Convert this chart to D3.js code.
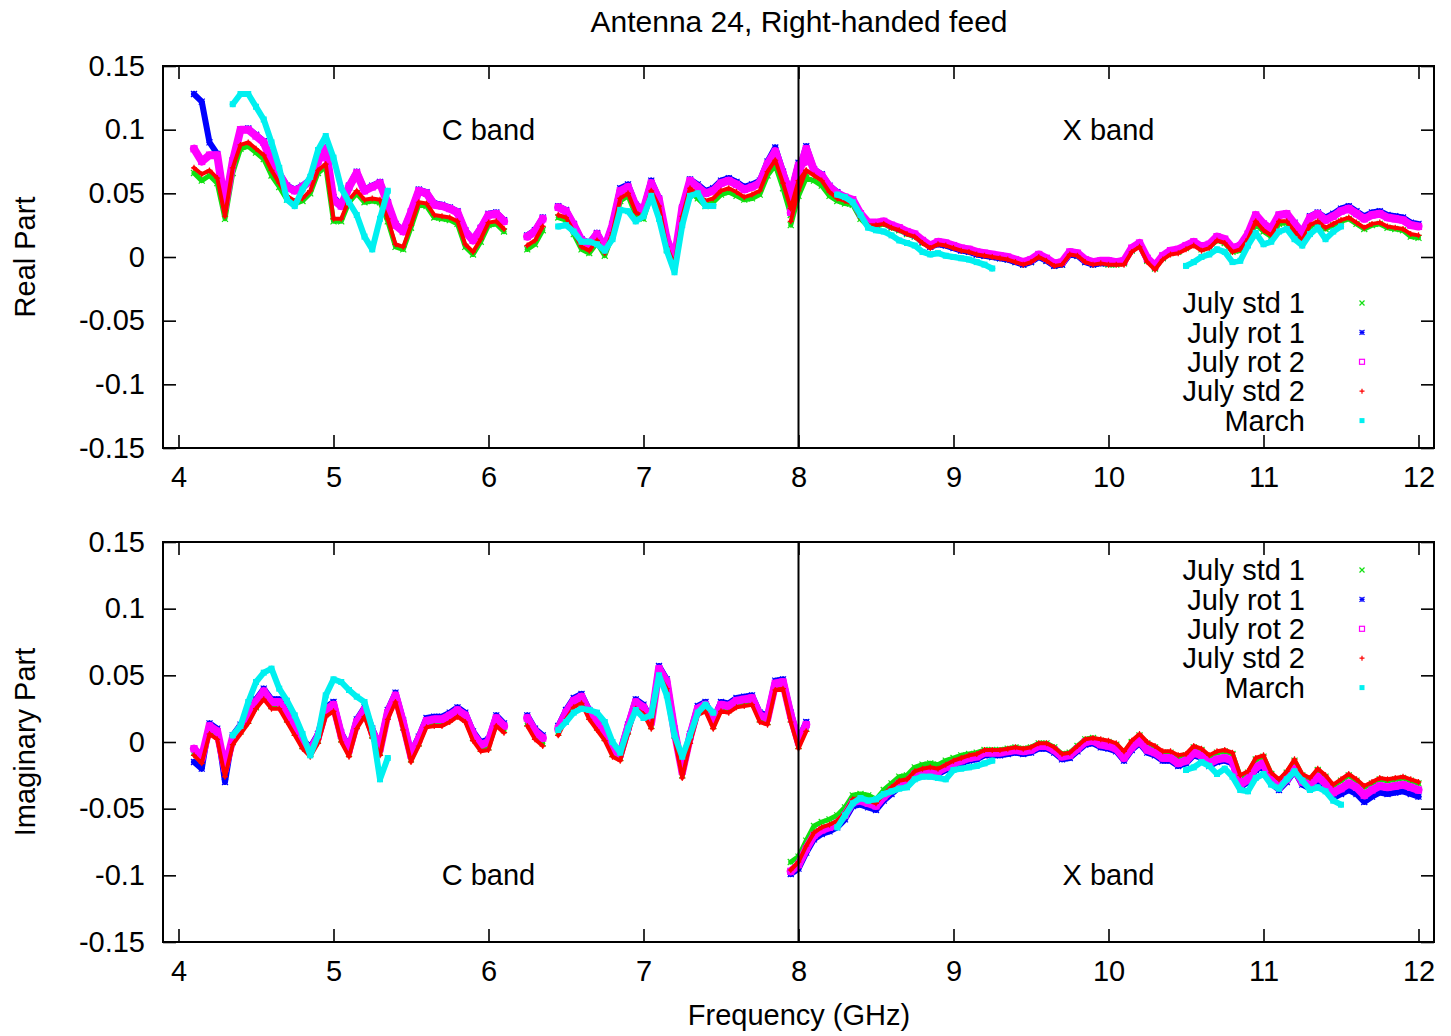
<!DOCTYPE html>
<html>
<head>
<meta charset="utf-8">
<script src="https://cdn.jsdelivr.net/npm/d3@7"></script>
<style>
  body { margin: 0; background: #fff; }
  text { font-family: "Liberation Sans", Arial, sans-serif; fill: #000; }
</style>
</head>
<body>
<script>
// Antenna 24, right-handed feed: real / imaginary part vs frequency
// values, C band and X band are separate sweeps

var freqC = [4.10,4.15,4.20,4.25,4.30,4.35,4.40,4.45,4.50,4.55,4.60,4.65,4.70,4.75,4.80,4.85,4.90,4.95,5.00,5.05,
             5.10,5.15,5.20,5.25,5.30,5.35,5.40,5.45,5.50,5.55,5.60,5.65,5.70,5.75,5.80,5.85,5.90,5.95,6.00,6.05,
             6.10,6.15,6.20,6.25,6.30,6.35,6.40,6.45,6.50,6.55,6.60,6.65,6.70,6.75,6.80,6.85,6.90,6.95,7.00,7.05,
             7.10,7.15,7.20,7.25,7.30,7.35,7.40,7.45,7.50,7.55,7.60,7.65,7.70,7.75,7.80,7.85,7.90,7.95,8.00,8.05];

var freqX = [7.95,8.00,8.05,8.10,8.15,8.20,8.25,8.30,8.35,8.40,8.45,8.50,8.55,8.60,8.65,8.70,8.75,8.80,8.85,8.90,
             8.95,9.00,9.05,9.10,9.15,9.20,9.25,9.30,9.35,9.40,9.45,9.50,9.55,9.60,9.65,9.70,9.75,9.80,9.85,9.90,
             9.95,10.00,10.05,10.10,10.15,10.20,10.25,10.30,10.35,10.40,10.45,10.50,10.55,10.60,10.65,10.70,10.75,10.80,10.85,10.90,
             10.95,11.00,11.05,11.10,11.15,11.20,11.25,11.30,11.35,11.40,11.45,11.50,11.55,11.60,11.65,11.70,11.75,11.80,11.85,11.90,
             11.95,12.00];

var seriesNames = ["July std 1", "July rot 1", "July rot 2", "July std 2", "March"];
var xTicks = [4, 5, 6, 7, 8, 9, 10, 11, 12];
var xTickLabels = ["4", "5", "6", "7", "8", "9", "10", "11", "12"];
var yTicks = [0.15, 0.1, 0.05, 0, -0.05, -0.1, -0.15];
var yTickLabels = ["0.15", "0.1", "0.05", "0", "-0.05", "-0.1", "-0.15"];

// ---- real part, C band ----
var realStd1C = [0.066,0.060,0.064,0.058,0.030,0.066,0.085,0.087,0.082,0.077,
                 0.064,0.055,0.045,0.042,0.044,0.050,0.066,0.071,0.028,0.028,
                 0.043,0.050,0.043,0.044,0.043,0.028,0.008,0.006,0.023,0.041,
                 0.040,0.031,0.030,0.029,0.026,0.008,0.002,0.012,0.025,0.026,
                 0.020,null,null,0.006,0.010,0.021,null,0.031,0.029,0.018,
                 0.006,0.003,0.011,0.001,0.017,0.044,0.048,0.033,0.030,0.049,
                 0.037,0.006,-0.004,0.030,0.051,0.046,0.040,0.043,0.049,0.051,
                 0.048,0.045,0.046,0.049,0.064,0.072,0.054,0.033,0.056,0.064];
var realRot1C = [0.128,0.122,0.090,0.081,0.042,0.076,0.100,0.101,0.096,0.091,
                 0.076,0.066,0.056,0.053,0.056,0.061,0.076,0.086,0.047,0.041,
                 0.056,0.067,0.053,0.056,0.059,0.043,0.026,0.021,0.036,0.053,
                 0.051,0.042,0.041,0.039,0.036,0.021,0.014,0.023,0.034,0.035,
                 0.029,null,null,0.017,0.021,0.031,null,0.040,0.037,0.026,
                 0.014,0.011,0.019,0.008,0.026,0.054,0.057,0.041,0.038,0.060,
                 0.046,0.015,-0.001,0.039,0.061,0.057,0.052,0.054,0.060,0.062,
                 0.059,0.055,0.057,0.060,0.075,0.086,0.067,0.050,0.074,0.077];
var realRot2C = [0.085,0.075,0.080,0.080,0.040,0.075,0.100,0.100,0.095,0.090,
                 0.075,0.065,0.055,0.052,0.055,0.060,0.075,0.085,0.045,0.040,
                 0.055,0.066,0.052,0.055,0.058,0.042,0.025,0.020,0.035,0.052,
                 0.050,0.041,0.040,0.038,0.035,0.020,0.013,0.022,0.033,0.034,
                 0.028,null,null,0.016,0.020,0.030,null,0.039,0.036,0.025,
                 0.013,0.010,0.018,0.007,0.025,0.052,0.055,0.040,0.037,0.058,
                 0.045,0.014,-0.002,0.038,0.060,0.055,0.050,0.052,0.058,0.060,
                 0.057,0.053,0.055,0.058,0.073,0.083,0.065,0.048,0.072,0.075];
var realStd2C = [0.070,0.065,0.068,0.062,0.032,0.070,0.088,0.090,0.085,0.080,
                 0.068,0.058,0.048,0.044,0.046,0.052,0.068,0.073,0.030,0.030,
                 0.045,0.052,0.045,0.046,0.045,0.030,0.010,0.008,0.025,0.043,
                 0.042,0.033,0.032,0.031,0.028,0.010,0.004,0.014,0.027,0.028,
                 0.022,null,null,0.009,0.013,0.024,null,0.033,0.031,0.020,
                 0.008,0.005,0.013,0.003,0.019,0.046,0.050,0.035,0.032,0.052,
                 0.040,0.008,-0.006,0.032,0.054,0.049,0.044,0.046,0.052,0.054,
                 0.051,0.047,0.049,0.052,0.067,0.076,0.058,0.038,0.060,0.068];
var realMarchC = [null,null,null,null,null,0.120,0.128,0.128,0.118,0.108,
                  0.090,0.070,0.045,0.040,0.053,0.063,0.084,0.095,0.078,0.054,
                  0.043,0.033,0.016,0.006,0.030,0.052,null,null,null,null,
                  null,null,null,null,null,null,null,null,null,null,
                  null,null,null,null,null,null,null,0.024,0.025,0.020,
                  0.012,0.012,0.010,0.005,0.014,0.037,0.036,0.028,0.032,0.048,
                  0.030,0.005,-0.012,0.025,0.048,0.050,0.040,0.040,null,null,
                  null,null,null,null,null,null,null,null,null,null];

// ---- real part, X band ----
var realStd1X = [0.025,0.048,0.062,0.060,0.056,0.048,0.044,0.042,0.041,0.030,
                 0.024,0.024,0.026,0.023,0.021,0.018,0.016,0.011,0.008,0.011,
                 0.010,0.008,0.006,0.004,0.002,0.001,0.000,-0.001,-0.002,-0.004,
                 -0.006,-0.004,0.000,-0.003,-0.007,-0.006,0.002,0.001,-0.004,-0.006,
                 -0.005,-0.006,-0.006,-0.005,0.005,0.009,-0.003,-0.009,-0.001,0.003,
                 0.004,0.007,0.010,0.006,0.008,0.013,0.011,0.004,0.005,0.013,
                 0.026,0.020,0.016,0.026,0.027,0.019,0.012,0.024,0.027,0.022,
                 0.025,0.028,0.030,0.026,0.022,0.025,0.026,0.023,0.022,0.021,
                 0.016,0.015];
var realRot1X = [0.036,0.067,0.087,0.069,0.065,0.056,0.051,0.047,0.045,0.034,
                 0.027,0.026,0.027,0.024,0.022,0.019,0.017,0.012,0.008,0.010,
                 0.009,0.007,0.005,0.004,0.002,0.001,0.000,-0.001,-0.002,-0.004,
                 -0.006,-0.004,0.000,-0.003,-0.007,-0.006,0.002,0.001,-0.004,-0.006,
                 -0.005,-0.005,-0.005,-0.004,0.006,0.010,-0.002,-0.008,0.000,0.004,
                 0.005,0.008,0.011,0.008,0.010,0.016,0.014,0.007,0.009,0.018,
                 0.033,0.026,0.022,0.033,0.034,0.027,0.020,0.032,0.035,0.031,
                 0.034,0.038,0.040,0.036,0.032,0.035,0.036,0.033,0.032,0.031,
                 0.027,0.026];
var realRot2X = [0.035,0.065,0.085,0.068,0.064,0.055,0.050,0.047,0.045,0.034,
                 0.027,0.027,0.028,0.025,0.023,0.020,0.018,0.013,0.009,0.012,
                 0.011,0.009,0.007,0.006,0.004,0.003,0.002,0.001,0.000,-0.002,
                 -0.004,-0.002,0.002,-0.001,-0.005,-0.004,0.004,0.003,-0.002,-0.004,
                 -0.003,-0.003,-0.004,-0.003,0.007,0.011,-0.001,-0.007,0.001,0.005,
                 0.006,0.009,0.012,0.008,0.010,0.016,0.014,0.007,0.009,0.018,
                 0.033,0.026,0.022,0.033,0.034,0.026,0.019,0.031,0.034,0.029,
                 0.032,0.036,0.038,0.034,0.030,0.033,0.034,0.031,0.030,0.029,
                 0.025,0.024];
var realStd2X = [0.028,0.052,0.068,0.064,0.060,0.051,0.046,0.044,0.042,0.031,
                 0.025,0.025,0.026,0.023,0.021,0.018,0.016,0.011,0.007,0.010,
                 0.009,0.007,0.005,0.004,0.002,0.001,0.000,-0.001,-0.002,-0.004,
                 -0.006,-0.004,0.000,-0.003,-0.007,-0.006,0.002,0.001,-0.004,-0.006,
                 -0.005,-0.006,-0.006,-0.006,0.004,0.008,-0.004,-0.010,-0.002,0.002,
                 0.003,0.006,0.009,0.005,0.007,0.013,0.011,0.004,0.006,0.014,
                 0.028,0.021,0.017,0.028,0.028,0.020,0.013,0.025,0.028,0.023,
                 0.026,0.029,0.031,0.027,0.023,0.026,0.027,0.024,0.023,0.022,
                 0.018,0.017];
var realMarchX = [null,null,null,null,null,null,0.049,0.047,0.043,0.033,
                  0.023,0.021,0.020,0.017,0.013,0.011,0.009,0.004,0.002,0.003,
                  0.001,0.000,-0.001,-0.002,-0.004,-0.006,-0.009,null,null,null,
                  null,null,null,null,null,null,null,null,null,null,
                  null,null,null,null,null,null,null,null,null,null,
                  null,-0.007,-0.004,0.000,0.002,0.006,0.004,-0.004,-0.003,0.009,
                  0.019,0.010,0.012,0.020,0.022,0.014,0.009,0.018,0.023,0.014,
                  0.020,0.024,null,null,null,null,null,null,null,null,
                  null,null];

// ---- imaginary part, C band ----
var imagStd1C = [-0.008,-0.014,0.008,0.004,-0.024,0.000,0.008,0.016,0.026,0.033,
                 0.027,0.027,0.017,0.007,-0.003,-0.009,0.001,0.021,0.025,0.002,
                 -0.009,0.012,0.021,0.005,-0.008,0.019,0.032,0.011,-0.013,-0.001,
                 0.013,0.014,0.014,0.017,0.021,0.017,0.003,-0.005,-0.004,0.014,
                 0.009,null,null,0.014,0.004,-0.001,null,0.007,0.019,0.028,
                 0.031,0.019,0.011,0.003,-0.009,-0.012,0.008,0.027,0.023,0.012,
                 0.052,0.042,0.005,-0.025,0.001,0.022,0.025,0.012,0.025,0.024,
                 0.028,0.029,0.030,0.017,0.015,0.041,0.042,0.017,-0.003,0.010];
var imagRot1C = [-0.015,-0.020,0.014,0.010,-0.030,0.005,0.013,0.021,0.032,0.040,
                 0.032,0.032,0.022,0.012,0.002,-0.004,0.006,0.026,0.030,0.007,
                 -0.004,0.017,0.026,0.010,-0.003,0.024,0.037,0.016,-0.008,0.004,
                 0.018,0.019,0.019,0.022,0.026,0.022,0.008,0.000,0.002,0.020,
                 0.014,null,null,0.020,0.010,0.005,null,0.012,0.024,0.033,
                 0.036,0.024,0.016,0.008,-0.004,-0.007,0.013,0.032,0.028,0.017,
                 0.057,0.047,0.010,-0.020,0.006,0.027,0.030,0.017,0.030,0.029,
                 0.033,0.034,0.035,0.022,0.020,0.046,0.047,0.022,0.002,0.015];
var imagRot2C = [-0.005,-0.012,0.012,0.008,-0.020,0.003,0.011,0.019,0.030,0.038,
                 0.030,0.030,0.020,0.010,0.000,-0.006,0.004,0.024,0.028,0.005,
                 -0.006,0.015,0.024,0.008,-0.005,0.022,0.035,0.014,-0.010,0.002,
                 0.016,0.017,0.017,0.020,0.024,0.020,0.006,-0.002,0.000,0.018,
                 0.012,null,null,0.018,0.008,0.003,null,0.010,0.022,0.031,
                 0.034,0.022,0.014,0.006,-0.006,-0.009,0.011,0.030,0.026,0.015,
                 0.055,0.045,0.008,-0.022,0.004,0.025,0.028,0.015,0.028,0.027,
                 0.031,0.032,0.033,0.020,0.018,0.044,0.045,0.020,0.000,0.013];
var imagStd2C = [-0.010,-0.016,0.006,0.002,-0.026,-0.002,0.006,0.014,0.025,0.032,
                 0.025,0.025,0.015,0.005,-0.005,-0.011,-0.001,0.019,0.023,0.000,
                 -0.011,0.010,0.019,0.003,-0.010,0.017,0.030,0.009,-0.015,-0.003,
                 0.011,0.012,0.012,0.015,0.019,0.015,0.001,-0.007,-0.006,0.012,
                 0.007,null,null,0.012,0.002,-0.003,null,0.005,0.017,0.026,
                 0.029,0.017,0.009,0.001,-0.011,-0.014,0.006,0.025,0.021,0.010,
                 0.050,0.040,0.003,-0.027,-0.001,0.020,0.023,0.010,0.023,0.022,
                 0.026,0.027,0.028,0.015,0.013,0.039,0.040,0.015,-0.005,0.008];
var imagMarchC = [null,null,null,null,null,0.005,0.012,0.030,0.045,0.052,
                  0.055,0.040,0.031,0.020,0.006,-0.010,0.005,0.035,0.047,0.045,
                  0.039,0.034,0.030,0.010,-0.028,-0.012,null,null,null,null,
                  null,null,null,null,null,null,null,null,null,null,
                  null,null,null,null,null,null,null,0.009,0.015,0.022,
                  0.025,0.024,0.022,0.015,0.000,-0.008,0.010,0.024,0.018,0.020,
                  0.050,0.035,0.005,-0.011,0.005,0.022,0.028,0.022,null,null,
                  null,null,null,null,null,null,null,null,null,null];

// ---- imaginary part, X band ----
var imagStd1X = [-0.090,-0.086,-0.074,-0.063,-0.060,-0.058,-0.055,-0.049,-0.040,-0.039,
                 -0.040,-0.043,-0.036,-0.031,-0.026,-0.025,-0.019,-0.017,-0.016,-0.017,
                 -0.014,-0.012,-0.010,-0.009,-0.008,-0.006,-0.006,-0.006,-0.005,-0.004,
                 -0.005,-0.004,-0.001,-0.001,-0.004,-0.009,-0.008,-0.003,0.002,0.003,
                 0.001,0.000,-0.002,-0.008,0.000,0.005,-0.001,-0.004,-0.008,-0.008,
                 -0.011,-0.010,-0.004,-0.006,-0.011,-0.008,-0.007,-0.009,-0.026,-0.023,
                 -0.013,-0.011,-0.024,-0.029,-0.023,-0.014,-0.025,-0.028,-0.021,-0.026,
                 -0.033,-0.029,-0.025,-0.029,-0.034,-0.031,-0.028,-0.029,-0.028,-0.027,
                 -0.029,-0.031];
var imagRot1X = [-0.099,-0.095,-0.083,-0.073,-0.069,-0.067,-0.064,-0.058,-0.048,-0.047,
                 -0.049,-0.051,-0.044,-0.039,-0.034,-0.032,-0.026,-0.024,-0.023,-0.024,
                 -0.021,-0.018,-0.016,-0.014,-0.013,-0.010,-0.010,-0.010,-0.009,-0.008,
                 -0.009,-0.008,-0.005,-0.005,-0.008,-0.013,-0.012,-0.007,-0.002,-0.001,
                 -0.004,-0.005,-0.007,-0.014,-0.006,-0.001,-0.008,-0.010,-0.014,-0.014,
                 -0.018,-0.016,-0.010,-0.012,-0.018,-0.015,-0.014,-0.016,-0.034,-0.030,
                 -0.021,-0.018,-0.031,-0.036,-0.030,-0.022,-0.032,-0.035,-0.029,-0.034,
                 -0.042,-0.039,-0.036,-0.039,-0.045,-0.041,-0.038,-0.039,-0.038,-0.037,
                 -0.039,-0.041];
var imagRot2X = [-0.097,-0.092,-0.080,-0.070,-0.066,-0.064,-0.061,-0.055,-0.045,-0.044,
                 -0.046,-0.048,-0.041,-0.036,-0.031,-0.030,-0.024,-0.022,-0.021,-0.022,
                 -0.019,-0.016,-0.014,-0.012,-0.011,-0.008,-0.008,-0.008,-0.007,-0.006,
                 -0.007,-0.006,-0.003,-0.003,-0.006,-0.011,-0.010,-0.005,0.000,0.001,
                 -0.002,-0.003,-0.005,-0.012,-0.004,0.001,-0.006,-0.008,-0.012,-0.012,
                 -0.016,-0.014,-0.008,-0.010,-0.016,-0.013,-0.012,-0.014,-0.032,-0.028,
                 -0.019,-0.016,-0.029,-0.034,-0.028,-0.020,-0.030,-0.032,-0.026,-0.031,
                 -0.038,-0.035,-0.031,-0.034,-0.040,-0.036,-0.033,-0.034,-0.033,-0.032,
                 -0.034,-0.036];
var imagStd2X = [-0.096,-0.090,-0.078,-0.068,-0.064,-0.062,-0.059,-0.053,-0.043,-0.042,
                 -0.044,-0.046,-0.039,-0.034,-0.029,-0.028,-0.022,-0.020,-0.019,-0.020,
                 -0.017,-0.014,-0.012,-0.010,-0.009,-0.006,-0.006,-0.006,-0.005,-0.004,
                 -0.005,-0.004,-0.001,-0.001,-0.004,-0.009,-0.008,-0.003,0.002,0.003,
                 0.002,0.001,-0.001,-0.007,0.001,0.006,0.000,-0.003,-0.007,-0.007,
                 -0.010,-0.009,-0.003,-0.005,-0.010,-0.007,-0.006,-0.008,-0.025,-0.022,
                 -0.012,-0.010,-0.023,-0.028,-0.022,-0.013,-0.024,-0.027,-0.020,-0.025,
                 -0.032,-0.028,-0.024,-0.028,-0.033,-0.030,-0.027,-0.028,-0.027,-0.026,
                 -0.028,-0.030];
var imagMarchX = [null,null,null,null,null,null,-0.064,-0.055,-0.046,-0.042,
                  -0.044,-0.043,-0.039,-0.037,-0.035,-0.034,-0.028,-0.026,-0.026,-0.027,
                  -0.028,-0.021,-0.020,-0.019,-0.018,-0.016,-0.014,null,null,null,
                  null,null,null,null,null,null,null,null,null,null,
                  null,null,null,null,null,null,null,null,null,null,
                  null,-0.021,-0.019,-0.015,-0.018,-0.024,-0.020,-0.026,-0.036,-0.037,
                  -0.027,-0.024,-0.032,-0.035,-0.028,-0.022,-0.029,-0.036,-0.034,-0.037,
                  -0.044,-0.047,null,null,null,null,null,null,null,null,
                  null,null];

// look of each series, same order as seriesNames (gnuplot-like point types)
var looks = [
    {color: "#10e010", width: 5,   marker: "cross"},
    {color: "#0000ff", width: 6,   marker: "star"},
    {color: "#ff00ff", width: 8,   marker: "box"},
    {color: "#ff0000", width: 4,   marker: "plus"},
    {color: "#00f0f0", width: 6,   marker: "fbox"}
];

var W = 1451, H = 1036;
var fontSize = "29px";
var svg = d3.select("body").append("svg")
    .attr("width", W)
    .attr("height", H);

var x = d3.scaleLinear().domain([3.9, 12.1]).range([163, 1434]);

var panels = [
    {top: 66, bottom: 448, label: "Real Part",
     c: [realStd1C, realRot1C, realRot2C, realStd2C, realMarchC],
     x: [realStd1X, realRot1X, realRot2X, realStd2X, realMarchX],
     bandY: 0.1, legendY: 303},
    {top: 542, bottom: 942, label: "Imaginary Part",
     c: [imagStd1C, imagRot1C, imagRot2C, imagStd2C, imagMarchC],
     x: [imagStd1X, imagRot1X, imagRot2X, imagStd2X, imagMarchX],
     bandY: -0.1, legendY: 570}
];

function marker(g, type, cx, cy, s, color) {
    var h = s / 2;
    if (type == "cross" || type == "star") {
        g.append("path").attr("d", "M" + (cx - h) + "," + (cy - h) + "L" + (cx + h) + "," + (cy + h) +
                                    "M" + (cx - h) + "," + (cy + h) + "L" + (cx + h) + "," + (cy - h))
            .attr("stroke", color).attr("stroke-width", 1.2);
    }
    if (type == "plus" || type == "star") {
        g.append("path").attr("d", "M" + (cx - h) + "," + cy + "L" + (cx + h) + "," + cy +
                                    "M" + cx + "," + (cy - h) + "L" + cx + "," + (cy + h))
            .attr("stroke", color).attr("stroke-width", 1.2);
    }
    if (type == "box") {
        g.append("rect").attr("x", cx - h).attr("y", cy - h).attr("width", s).attr("height", s)
            .attr("fill", "none").attr("stroke", color).attr("stroke-width", 1.2);
    }
    if (type == "fbox") {
        g.append("rect").attr("x", cx - h).attr("y", cy - h).attr("width", s).attr("height", s)
            .attr("fill", color);
    }
}

// title
svg.append("text")
    .attr("x", 799).attr("y", 32)
    .attr("text-anchor", "middle")
    .style("font-size", "30px")
    .text("Antenna 24, Right-handed feed");

panels.forEach(function(p, pi) {
    var y = d3.scaleLinear().domain([-0.15, 0.15]).range([p.bottom, p.top]);
    var g = svg.append("g");

    var clipId = "clip" + pi;
    svg.append("clipPath").attr("id", clipId)
        .append("rect")
        .attr("x", x.range()[0]).attr("y", p.top)
        .attr("width", x.range()[1] - x.range()[0])
        .attr("height", p.bottom - p.top);

    var plot = g.append("g").attr("clip-path", "url(#" + clipId + ")");

    var line = d3.line()
        .defined(function(d) { return d[1] != null; })
        .x(function(d) { return x(d[0]); })
        .y(function(d) { return y(d[1]); });

    // series in gnuplot plotting order
    seriesNames.forEach(function(name, i) {
        var lk = looks[i];
        [[freqC, p.c[i]], [freqX, p.x[i]]].forEach(function(band) {
            var pts = band[0].map(function(f, k) { return [f, band[1][k]]; });
            plot.append("path")
                .datum(pts)
                .attr("d", line)
                .attr("fill", "none")
                .attr("stroke", lk.color)
                .attr("stroke-width", lk.width)
                .attr("stroke-linejoin", "round")
                .attr("stroke-linecap", "round");
            var mg = plot.append("g");
            pts.forEach(function(d) {
                if (d[1] == null) return;
                marker(mg, lk.marker, x(d[0]), y(d[1]), 6, lk.color);
            });
        });
    });

    // vertical line at 8 GHz
    g.append("line")
        .attr("x1", x(8)).attr("x2", x(8))
        .attr("y1", p.top).attr("y2", p.bottom)
        .attr("stroke", "#000").attr("stroke-width", 2);

    // axes with inward ticks on all four sides
    var left = g.append("g")
        .attr("transform", "translate(" + x.range()[0] + ",0)")
        .call(d3.axisLeft(y).tickValues(yTicks).tickSize(-13).tickPadding(18)
              .tickFormat(function(d, k) { return yTickLabels[k]; }));
    var right = g.append("g")
        .attr("transform", "translate(" + x.range()[1] + ",0)")
        .call(d3.axisRight(y).tickValues(yTicks).tickSize(-13).tickFormat(""));
    var bottom = g.append("g")
        .attr("transform", "translate(0," + p.bottom + ")")
        .call(d3.axisBottom(x).tickValues(xTicks).tickSize(-13).tickPadding(18)
              .tickFormat(function(d, k) { return xTickLabels[k]; }));
    var top = g.append("g")
        .attr("transform", "translate(0," + p.top + ")")
        .call(d3.axisTop(x).tickValues(xTicks).tickSize(-13).tickFormat(""));

    [left, right, bottom, top].forEach(function(a) {
        a.select(".domain").remove();
        a.selectAll(".tick line").attr("stroke", "#000").attr("stroke-width", 1.6);
        a.selectAll(".tick text")
            .style("font-size", fontSize)
            .style("font-family", "'Liberation Sans', Arial, sans-serif")
            .attr("fill", "#000");
    });

    // frame
    g.append("rect")
        .attr("x", x.range()[0]).attr("y", p.top)
        .attr("width", x.range()[1] - x.range()[0])
        .attr("height", p.bottom - p.top)
        .attr("fill", "none").attr("stroke", "#000").attr("stroke-width", 2);

    // band labels
    g.append("text")
        .attr("x", x(6)).attr("y", y(p.bandY))
        .attr("text-anchor", "middle").attr("dy", "0.35em")
        .style("font-size", fontSize)
        .text("C band");
    g.append("text")
        .attr("x", x(10)).attr("y", y(p.bandY))
        .attr("text-anchor", "middle").attr("dy", "0.35em")
        .style("font-size", fontSize)
        .text("X band");

    // y label
    g.append("text")
        .attr("transform", "translate(35," + ((p.top + p.bottom) / 2) + ") rotate(-90)")
        .attr("text-anchor", "middle")
        .style("font-size", fontSize)
        .text(p.label);

    // legend
    var lg = g.append("g");
    seriesNames.forEach(function(name, i) {
        var ly = p.legendY + i * 29.4;
        lg.append("text")
            .attr("x", 1305).attr("y", ly)
            .attr("dy", "0.35em")
            .attr("text-anchor", "end")
            .style("font-size", fontSize)
            .text(name);
        marker(lg, looks[i].marker, 1362, ly, 5, looks[i].color);
    });
});

// x axis label
svg.append("text")
    .attr("x", 799).attr("y", 1025)
    .attr("text-anchor", "middle")
    .style("font-size", fontSize)
    .text("Frequency (GHz)");
</script>
</body>
</html>
